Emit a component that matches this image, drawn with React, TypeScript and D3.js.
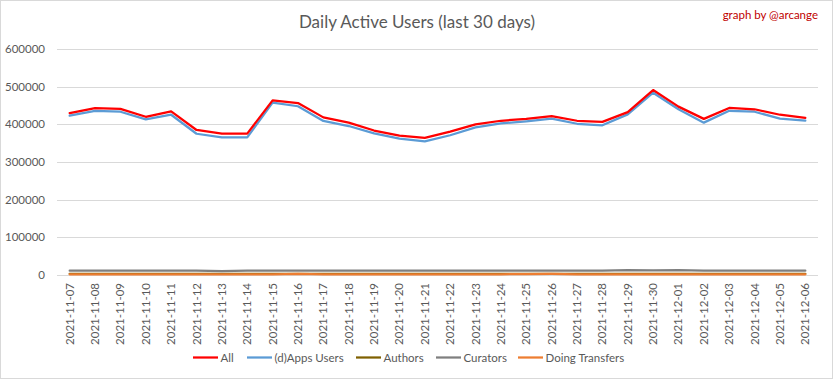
import React from "react";
import * as d3 from "d3";

const dates = [
  "2021-11-07","2021-11-08","2021-11-09","2021-11-10","2021-11-11","2021-11-12","2021-11-13","2021-11-14","2021-11-15","2021-11-16",
  "2021-11-17","2021-11-18","2021-11-19","2021-11-20","2021-11-21","2021-11-22","2021-11-23","2021-11-24","2021-11-25","2021-11-26",
  "2021-11-27","2021-11-28","2021-11-29","2021-11-30","2021-12-01","2021-12-02","2021-12-03","2021-12-04","2021-12-05","2021-12-06",
];

const allUsers = [
  430000, 443000, 441000, 420000, 434500, 385000, 375500, 375500, 463500, 456500,
  418500, 404500, 383500, 370000, 364000, 380500, 400000, 409500, 414500, 422000,
  409500, 406500, 432500, 491000, 447000, 414500, 443500, 440000, 425500, 417000,
];
const appsUsers = [
  423000, 435500, 433500, 413000, 425500, 375000, 365500, 365500, 457500, 448000,
  409000, 395500, 376000, 362000, 355000, 371000, 392000, 402500, 408000, 415000,
  401500, 397500, 426500, 484000, 440000, 404500, 436000, 433500, 415000, 410000,
];
const authors = [
  3000, 3000, 3000, 3000, 3000, 3000, 3000, 3000, 3000, 3000,
  3000, 3000, 3000, 3000, 3000, 3000, 3000, 3000, 3000, 3000,
  3000, 3000, 3000, 3000, 3000, 3000, 3000, 3000, 3000, 3000,
];
const curators = [
  11500, 11500, 11500, 11500, 11500, 11500, 10500, 11500, 11500, 11500,
  11500, 11500, 11500, 11500, 11500, 11500, 11500, 11500, 11500, 11500,
  11500, 11500, 13000, 12000, 13000, 11500, 11500, 11500, 11500, 11500,
];
const transfers = [
  1800, 1800, 1800, 1800, 1800, 1800, 1800, 1800, 1800, 2800,
  1800, 1800, 1800, 1800, 1800, 1800, 1800, 1800, 2600, 2800,
  1800, 1800, 1800, 1800, 1800, 1800, 1800, 1800, 1800, 1800,
];

const yTicks = [0, 100000, 200000, 300000, 400000, 500000, 600000];

const seriesNames = ["All", "(d)Apps Users", "Authors", "Curators", "Doing Transfers"];
const seriesColors = ["#ff0000", "#5b9bd5", "#7f6000", "#7f7f7f", "#ed7d31"];
const seriesValues = [allUsers, appsUsers, authors, curators, transfers];

const W = 833;
const H = 379;
const FONT = "Lato, 'Open Sans', sans-serif";

export default function App() {
  const x = d3.scaleBand<string>().domain(dates).range([57, 818]);
  const y = d3.scaleLinear().domain([0, 600000]).range([275, 49]);
  const cx = (d: string) => (x(d) as number) + x.bandwidth() / 2;

  const line = d3
    .line<number>()
    .x((_, i) => cx(dates[i]))
    .y((v) => y(v));

  // draw order: bottom to top
  const drawOrder = [2, 3, 4, 1, 0];

  const legendX = [193, 247, 356, 436, 518];

  return (
    <svg
      width={W}
      height={H}
      style={{ position: "absolute", left: 0, top: 0, background: "#fff" }}
      fontFamily={FONT}
    >
      <rect x={0.5} y={0.5} width={W - 1} height={H - 1} fill="#fff" stroke="#d9d9d9" />
      <text x={417} y={28} textAnchor="middle" fontSize={17} fill="#595959">
        Daily Active Users (last 30 days)
      </text>
      <text x={818} y={19} textAnchor="end" fontSize={11.5} fill="#c00000">
        graph by @arcange
      </text>

      {yTicks.map((t) => (
        <g key={t}>
          <line x1={57} x2={818} y1={Math.round(y(t)) + 0.5} y2={Math.round(y(t)) + 0.5} stroke="#d9d9d9" strokeWidth={1} />
          <text x={45} y={y(t) + 4} textAnchor="end" fontSize={11.5} fill="#595959">
            {t}
          </text>
        </g>
      ))}

      {dates.map((d) => (
        <text
          key={d}
          transform={`translate(${cx(d) + 4},283) rotate(-90)`}
          textAnchor="end"
          fontSize={11.5}
          fill="#595959"
        >
          {d}
        </text>
      ))}

      {drawOrder.map((si) => (
        <path
          key={si}
          d={line(seriesValues[si]) || ""}
          fill="none"
          stroke={seriesColors[si]}
          strokeWidth={2.25}
          strokeLinejoin="round"
          strokeLinecap="round"
        />
      ))}

      {seriesNames.map((n, i) => (
        <g key={n}>
          <line x1={legendX[i]} x2={legendX[i] + 25} y1={357.5} y2={357.5} stroke={seriesColors[i]} strokeWidth={2.25} />
          <text x={legendX[i] + 27.5} y={361.5} fontSize={11.5} fill="#595959">
            {n}
          </text>
        </g>
      ))}
    </svg>
  );
}
